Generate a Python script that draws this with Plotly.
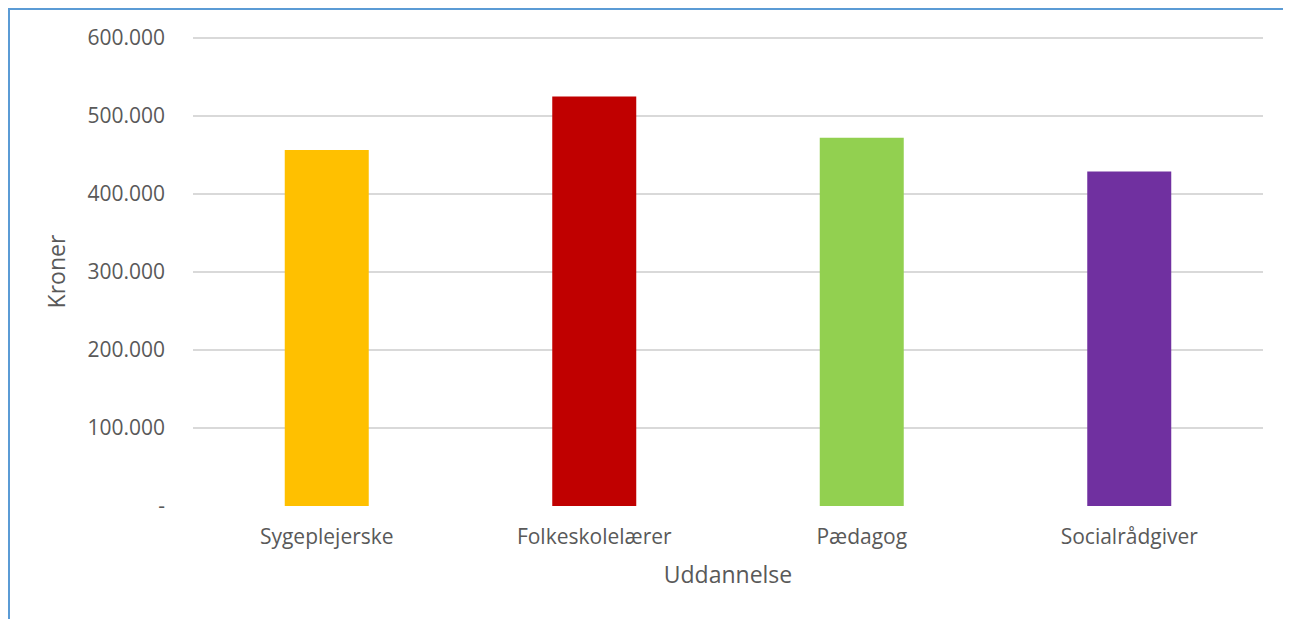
import plotly.graph_objects as go

categories = ["Sygeplejerske", "Folkeskolelærer", "Pædagog", "Socialrådgiver"]
values = [456500, 525000, 472000, 429000]
bar_colors = ["#FFC000", "#C00000", "#92D050", "#7030A0"]
tick_values = [0, 100000, 200000, 300000, 400000, 500000, 600000]
tick_labels = ["-", "100.000", "200.000", "300.000", "400.000", "500.000", "600.000"]

# the page body has an 8px margin, so work in page pixels minus 8
OFF = 8
W, H = 1291 - OFF, 619 - OFF
L, R, T, B = 193 - OFF, 1263 - OFF, 37 - OFF, 506 - OFF

fig = go.Figure(go.Bar(
    x=categories, y=values, marker=dict(color=bar_colors, line=dict(width=0)),
    width=0.314, hovertemplate="%{x}: %{y:,.0f}<extra></extra>",
))

font = dict(family="Open Sans, Calibri, Carlito, sans-serif", color="#595959")

def px_x(p):
    return (p - OFF - L) / (R - L)

def px_y(p):
    return (B - (p - OFF)) / (B - T)

fig.update_layout(
    width=W, height=H,
    margin=dict(l=L, r=W - R, t=T, b=H - B, autoexpand=False),
    paper_bgcolor="white", plot_bgcolor="white",
    font=dict(**font, size=21),
    showlegend=False,
    bargap=0.686,
    xaxis=dict(
        showgrid=False, showline=False, zeroline=False, ticks="",
        tickfont=dict(**font, size=21), ticklabelstandoff=16,
        title=dict(text="Uddannelse", font=dict(**font, size=23), standoff=17),
        automargin=False,
    ),
    yaxis=dict(
        range=[0, 601300], tickvals=tick_values, ticktext=tick_labels,
        showgrid=True, gridcolor="#D9D9D9", gridwidth=2,
        zeroline=False, showline=False, ticks="",
        tickfont=dict(**font, size=21), ticklabelstandoff=27,
        title=dict(text="Kroner", font=dict(**font, size=23), standoff=15),
        automargin=False,
    ),
    shapes=[dict(
        type="rect", xref="paper", yref="paper",
        x0=px_x(9), x1=px_x(1300), y0=px_y(640), y1=px_y(9),
        line=dict(color="#5B9BD5", width=2), fillcolor="rgba(0,0,0,0)",
        layer="below",
    )],
)

fig.write_html("out.html")
